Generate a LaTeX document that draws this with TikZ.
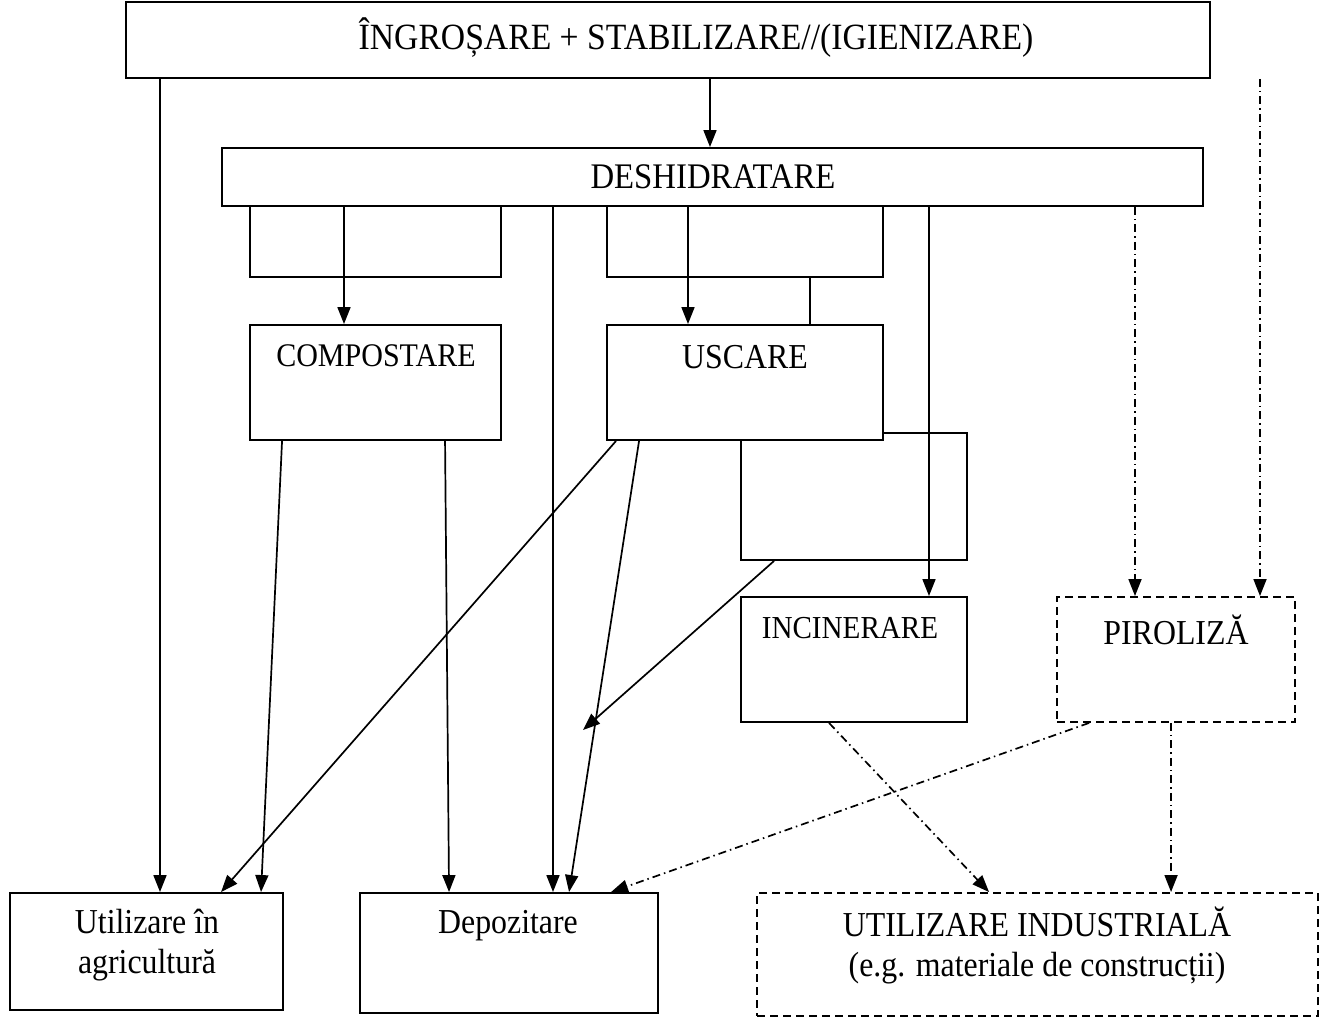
\documentclass[tikz,border=0pt]{standalone}
\usepackage{fontspec}
\setmainfont{Liberation Serif}[FakeStretch=0.91]
\usetikzlibrary{arrows.meta,calc}
\begin{document}
\begin{tikzpicture}[x=1pt,y=-1pt,
  box/.style={draw, rectangle, line width=1.9pt, inner sep=0pt, fill=white},
  dbox/.style={box, dash pattern=on 8pt off 5pt},
  lbl/.style={inner sep=0pt, font=\fontsize{35}{40}\selectfont, align=center},
  conn/.style={line width=1.7pt},
  arr/.style={conn, -{Triangle[length=17pt,width=13pt]}},
  dd/.style={line width=1.7pt, dash pattern=on 8pt off 4pt on 1.5pt off 4pt},
  darr/.style={dd, -{Triangle[length=17pt,width=13pt]}}]
\useasboundingbox (0,0) rectangle (1325,1019);
% boxes
\node[box, minimum width=1084pt, minimum height=76pt] (top) at (668,40) {};
\node[lbl, font=\fontsize{37}{40}\selectfont] (topT) at (696,38) {ÎNGROȘARE + STABILIZARE//(IGIENIZARE)};
\node[box, minimum width=981pt, minimum height=58pt] (desh) at (712.5,177) {};
\node[lbl, font=\fontsize{36}{40}\selectfont] (deshT) at (713,177) {DESHIDRATARE};
\node[box, minimum width=251pt, minimum height=71pt] (sb1) at (375.5,241.5) {};
\node[box, minimum width=276pt, minimum height=71pt] (sb2) at (745,241.5) {};
\node[box, minimum width=226pt, minimum height=127pt] (sb3) at (854,496.5) {};
\node[box, minimum width=251pt, minimum height=115pt] (comp) at (375.5,382.5) {};
\node[lbl, font=\fontsize{33}{40}\selectfont] (compT) at (376,356) {COMPOSTARE};
\node[box, minimum width=276pt, minimum height=115pt] (usc) at (745,382.5) {};
\node[lbl] (uscT) at (745,357) {USCARE};
\node[box, minimum width=226pt, minimum height=125pt] (inc) at (854,659.5) {};
\node[lbl, font=\fontsize{32}{40}\selectfont] (incT) at (850,628) {INCINERARE};
\node[dbox, minimum width=238pt, minimum height=125pt] (pir) at (1176,659.5) {};
\node[lbl] (pirT) at (1176,630) {PIROLIZĂ};
\node[box, minimum width=273pt, minimum height=117pt] (agri) at (146.5,951.5) {};
\node[lbl] (agriT) at (147,945) {Utilizare în\\agricultură};
\node[box, minimum width=298pt, minimum height=120pt] (dep) at (509,953) {};
\node[lbl] (depT) at (508,926) {Depozitare};
\node[dbox, minimum width=561pt, minimum height=123pt] (ind) at (1037.5,954.5) {};
\node[lbl] (indT) at (1037,945) {UTILIZARE INDUSTRIALĂ\\(e.g. materiale de construcții)};
\coordinate (dfree) at (583,730);
% connectors from top
\draw[arr] (top.south -| 160,0) -- (agri.north -| 160,0);
\draw[arr] (top.south -| 710,0) -- (desh.north -| 710,0);
\draw[darr] (top.south -| 1260,0) -- (pir.north -| 1260,0);
% from DESHIDRATARE
\draw[arr] (desh.south -| 344,0) -- (comp.north -| 344,0);
\draw[arr] (desh.south -| 553,0) -- (dep.north -| 553,0);
\draw[arr] (desh.south -| 688,0) -- (usc.north -| 688,0);
\draw[arr] (desh.south -| 929,0) -- (inc.north -| 929,0);
\draw[darr] (desh.south -| 1135,0) -- (pir.north -| 1135,0);
\draw[conn] (sb2.south -| 810,0) -- (usc.north -| 810,0);
% from COMPOSTARE
\draw[arr] ($(comp.south west)+(33,0)$) -- ($(agri.north west)+(252,0)$);
\draw[arr] ($(comp.south west)+(196,0)$) -- ($(dep.north west)+(90,0)$);
% from USCARE
\draw[arr] ($(usc.south west)+(10,0)$) -- ($(agri.north west)+(212,0)$);
\draw[arr] ($(usc.south west)+(33,0)$) -- ($(dep.north west)+(210,0)$);
\draw[arr] ($(sb3.south west)+(34,0)$) -- (dfree);
% to bottom dashed
\draw[darr] ($(inc.south west)+(89,0)$) -- ($(ind.north west)+(233,0)$);
\draw[darr] ($(pir.south west)+(115,0)$) -- ($(ind.north west)+(415,0)$);
\draw[darr] ($(pir.south west)+(33,0)$) -- ($(dep.north west)+(252,0)$);
\end{tikzpicture}
\end{document}
